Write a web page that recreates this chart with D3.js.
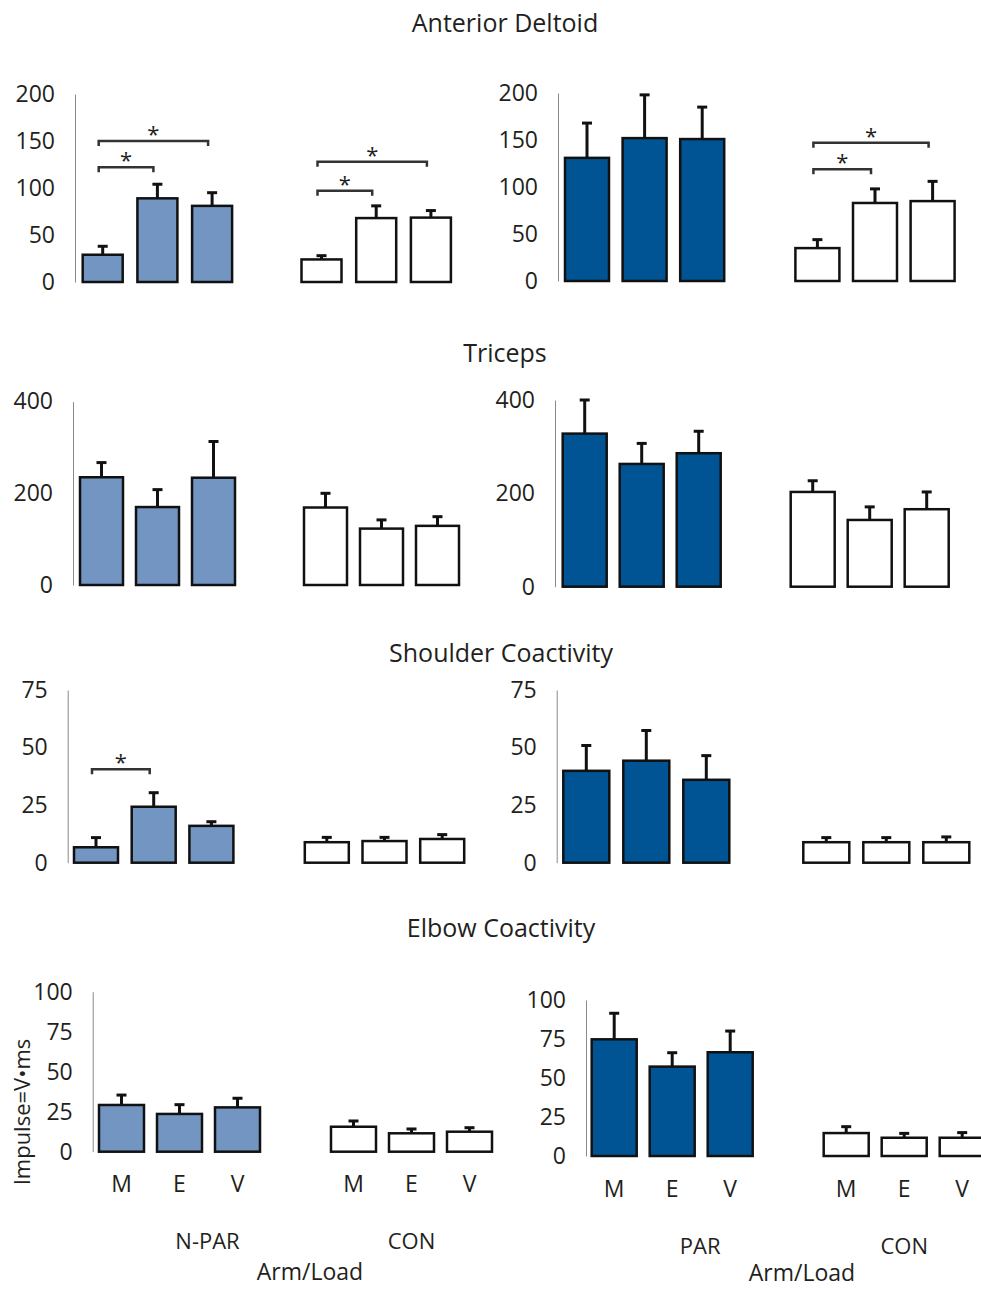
<!DOCTYPE html>
<html>
<head>
<meta charset="utf-8">
<script src="https://cdn.jsdelivr.net/npm/d3@7"></script>
<style>
  body { margin: 0; background: #fff; }
  text { font-family: "Open Sans", sans-serif; fill: #231f20; }
</style>
</head>
<body>
<script>
// categories
const loads = ["M", "E", "V"];
const armsLeft = ["N-PAR", "CON"];
const armsRight = ["PAR", "CON"];
const muscles = ["Anterior Deltoid", "Triceps", "Shoulder Coactivity", "Elbow Coactivity"];

// y ticks per muscle
const deltoidTicks = [0, 50, 100, 150, 200];
const tricepsTicks = [0, 200, 400];
const shoulderTicks = [0, 25, 50, 75];
const elbowTicks = [0, 25, 50, 75, 100];

// means and error (+SE)
const deltoidNPAR = [29, 89, 81],        deltoidNPARErr = [9, 15, 14];
const deltoidCONL = [24, 68, 68.5],      deltoidCONLErr = [4, 13, 7.5];
const deltoidPAR = [131, 152, 151],      deltoidPARErr = [37, 46, 34];
const deltoidCONR = [35, 83, 85],        deltoidCONRErr = [9, 15, 21];

const tricepsNPAR = [235, 170, 234],     tricepsNPARErr = [32, 38, 79];
const tricepsCONL = [169, 123, 129],     tricepsCONLErr = [31, 19, 20];
const tricepsPAR = [328, 263, 286],      tricepsPARErr = [72, 44, 47];
const tricepsCONR = [203, 143, 166],     tricepsCONRErr = [24, 28, 37];

const shoulderNPAR = [6.7, 24.3, 16],    shoulderNPARErr = [4.2, 6.1, 1.8];
const shoulderCONL = [8.9, 9.4, 10.3],   shoulderCONLErr = [2.1, 1.6, 1.9];
const shoulderPAR = [39.9, 44.3, 36],    shoulderPARErr = [11, 13.1, 10.5];
const shoulderCONR = [8.9, 8.9, 8.9],    shoulderCONRErr = [2, 2, 2.3];

const elbowNPAR = [29.2, 23.6, 27.7],    elbowNPARErr = [6.2, 5.8, 5.7];
const elbowCONL = [15.6, 11.5, 12.5],    elbowCONLErr = [3.6, 2.7, 2.5];
const elbowPAR = [74.8, 57.3, 66.5],     elbowPARErr = [16.7, 8.9, 13.6];
const elbowCONR = [14.7, 11.7, 11.7],    elbowCONRErr = [4.1, 2.8, 3.3];

// significance brackets: [panel, from load, to load, arm index, level]
const sigBrackets = [
  [0, 0, 1, 0, 122], [0, 0, 2, 0, 150],
  [0, 0, 1, 1, 97],  [0, 0, 2, 1, 128],
  [1, 0, 1, 1, 119], [1, 0, 2, 1, 147],
  [4, 0, 1, 0, 40.6]
];

const lightBlue = "#7295c2";
const darkBlue = "#005494";

// panel geometry (layout only)
const panels = [
  { ticks: deltoidTicks, arms: armsLeft, fill: lightBlue, vals: [deltoidNPAR, deltoidCONL], errs: [deltoidNPARErr, deltoidCONLErr],
    x0: 82.7, step: 54.7, bw: 40, axisX: 75, zeroY: 282, topY: 94 },
  { ticks: deltoidTicks, arms: armsRight, fill: darkBlue, vals: [deltoidPAR, deltoidCONR], errs: [deltoidPARErr, deltoidCONRErr],
    x0: 565, step: 57.6, bw: 44, axisX: 558, zeroY: 281, topY: 93 },
  { ticks: tricepsTicks, arms: armsLeft, fill: lightBlue, vals: [tricepsNPAR, tricepsCONL], errs: [tricepsNPARErr, tricepsCONLErr],
    x0: 80, step: 56, bw: 43, axisX: 73, zeroY: 585, topY: 401.6 },
  { ticks: tricepsTicks, arms: armsRight, fill: darkBlue, vals: [tricepsPAR, tricepsCONR], errs: [tricepsPARErr, tricepsCONRErr],
    x0: 562.7, step: 57, bw: 44, axisX: 555, zeroY: 586.7, topY: 400 },
  { ticks: shoulderTicks, arms: armsLeft, fill: lightBlue, vals: [shoulderNPAR, shoulderCONL], errs: [shoulderNPARErr, shoulderCONLErr],
    x0: 74, step: 57.7, bw: 44, axisX: 67.7, zeroY: 862.7, topY: 690 },
  { ticks: shoulderTicks, arms: armsRight, fill: darkBlue, vals: [shoulderPAR, shoulderCONR], errs: [shoulderPARErr, shoulderCONRErr],
    x0: 563.3, step: 60, bw: 46, axisX: 556.7, zeroY: 862.7, topY: 690 },
  { ticks: elbowTicks, arms: armsLeft, fill: lightBlue, vals: [elbowNPAR, elbowCONL], errs: [elbowNPARErr, elbowCONLErr],
    x0: 99, step: 58, bw: 45, axisX: 92.7, zeroY: 1151.7, topY: 991.7, labels: true, labY: 1183, armY: 1240, titleX: 310, titleY: 1280 },
  { ticks: elbowTicks, arms: armsRight, fill: darkBlue, vals: [elbowPAR, elbowCONR], errs: [elbowPARErr, elbowCONRErr],
    x0: 591.7, step: 58, bw: 45, axisX: 586, zeroY: 1156, topY: 1000, labels: true, labY: 1188, armY: 1245, titleX: 802, titleY: 1281 }
];

const titlePos = [[505, 22], [505, 352], [501, 652], [501, 927]];

const svg = d3.select("body").append("svg")
  .attr("width", 981)
  .attr("height", 1289);

svg.selectAll("text.title")
  .data(muscles)
  .enter().append("text")
    .attr("class", "title")
    .attr("x", (d, i) => titlePos[i][0])
    .attr("y", (d, i) => titlePos[i][1])
    .attr("text-anchor", "middle")
    .attr("dominant-baseline", "central")
    .style("font-size", "25px")
    .text(d => d);

panels.forEach((p, pi) => {
  // 7 slots: three loads, an empty slot, three loads
  const keys = ["a0", "a1", "a2", "gap", "b0", "b1", "b2"];
  const pad = 1 - p.bw / p.step;
  const x = d3.scaleBand()
    .domain(keys)
    .range([p.x0, p.x0 + 6 * p.step + p.bw])
    .paddingInner(pad)
    .paddingOuter(0);
  const y = d3.scaleLinear()
    .domain([0, d3.max(p.ticks)])
    .range([p.zeroY, p.topY]);

  const g = svg.append("g");

  const axis = g.append("g")
    .attr("transform", `translate(${p.axisX},0)`)
    .call(d3.axisLeft(y).tickValues(p.ticks).tickSize(0).tickPadding(20).tickFormat(d3.format("d")));
  axis.select(".domain").attr("stroke", "#8a8a8a").attr("stroke-width", 1);
  axis.selectAll(".tick text")
    .attr("fill", "#231f20")
    .style("font-family", "'Open Sans', sans-serif")
    .style("font-size", "23px");

  const rows = [];
  p.vals.forEach((vals, a) => {
    vals.forEach((v, i) => {
      rows.push({ key: (a === 0 ? "a" : "b") + i, arm: a, load: loads[i], v: v, e: p.errs[a][i] });
    });
  });

  // error bars first so the bar outline covers the base
  const eb = g.selectAll("g.err").data(rows).enter().append("g")
    .attr("stroke", "#111").attr("stroke-width", 3).attr("fill", "none");
  eb.append("line")
    .attr("x1", d => x(d.key) + x.bandwidth() / 2)
    .attr("x2", d => x(d.key) + x.bandwidth() / 2)
    .attr("y1", d => y(d.v))
    .attr("y2", d => y(d.v + d.e));
  eb.append("line")
    .attr("x1", d => x(d.key) + x.bandwidth() / 2 - 5)
    .attr("x2", d => x(d.key) + x.bandwidth() / 2 + 5)
    .attr("y1", d => y(d.v + d.e))
    .attr("y2", d => y(d.v + d.e));

  g.selectAll("rect.bar").data(rows).enter().append("rect")
    .attr("class", "bar")
    .attr("x", d => x(d.key))
    .attr("width", x.bandwidth())
    .attr("y", d => y(d.v))
    .attr("height", d => y(0) - y(d.v))
    .attr("fill", d => d.arm === 0 ? p.fill : "#fff")
    .attr("stroke", "#111")
    .attr("stroke-width", 2.5);

  // significance brackets
  sigBrackets.filter(b => b[0] === pi).forEach(b => {
    const pre = b[3] === 0 ? "a" : "b";
    const xa = x(pre + b[1]) + x.bandwidth() / 2 - 4;
    const xb = x(pre + b[2]) + x.bandwidth() / 2 - 4;
    const yb = y(b[4]);
    g.append("path")
      .attr("d", `M${xa},${yb + 5}V${yb}H${xb}V${yb + 5}`)
      .attr("fill", "none")
      .attr("stroke", "#333")
      .attr("stroke-width", 2.5);
    g.append("text")
      .attr("x", (xa + xb) / 2)
      .attr("y", yb + 1)
      .attr("text-anchor", "middle")
      .style("font-size", "22px")
      .text("*");
  });

  if (p.labels) {
    g.selectAll("text.load").data(rows).enter().append("text")
      .attr("class", "load")
      .attr("x", d => x(d.key) + x.bandwidth() / 2)
      .attr("y", p.labY)
      .attr("text-anchor", "middle")
      .attr("dominant-baseline", "central")
      .style("font-size", "23px")
      .text(d => d.load);

    g.selectAll("text.arm").data(p.arms).enter().append("text")
      .attr("class", "arm")
      .attr("x", (d, a) => a === 0
        ? (x("a0") + x("a2") + x.bandwidth()) / 2 + 28
        : (x("b0") + x("b2") + x.bandwidth()) / 2)
      .attr("y", p.armY)
      .attr("text-anchor", "middle")
      .attr("dominant-baseline", "central")
      .style("font-size", "22px")
      .text(d => d);

    g.append("text")
      .attr("x", p.titleX)
      .attr("y", p.titleY)
      .attr("text-anchor", "middle")
      .style("font-size", "23px")
      .text("Arm/Load");
  }
});

svg.append("text")
  .attr("transform", "translate(21,1112) rotate(-90)")
  .attr("text-anchor", "middle")
  .attr("dominant-baseline", "central")
  .style("font-size", "22px")
  .text("Impulse=V\u2022ms");
</script>
</body>
</html>
